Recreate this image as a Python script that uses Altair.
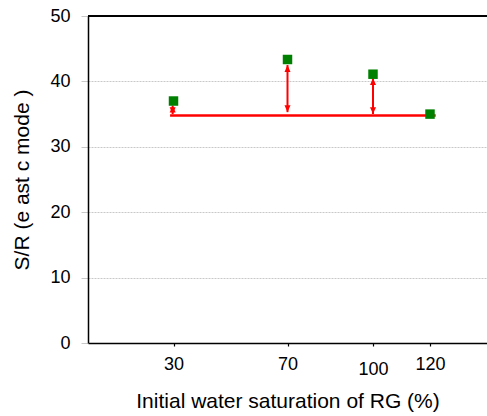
import altair as alt
import pandas as pd

# Data
x_vals = [30, 70, 100, 120]
sr_vals = [37.0, 43.35, 41.1, 35.0]
base_level = 34.8
base_x = [28.8, 122.0]
arrow_x = [29.7, 70, 100]
arrow_lo = [35.0, 35.3, 35.0]
arrow_hi = [36.3, 42.5, 40.5]
x_ticks = [30, 70, 100, 120]
y_ticks = [0, 10, 20, 30, 40, 50]

pts = pd.DataFrame({"x": x_vals, "y": sr_vals})
base = pd.DataFrame({"x": [base_x[0]], "x2": [base_x[1]], "y": [base_level]})
arr = pd.DataFrame({"x": arrow_x, "lo": arrow_lo, "hi": arrow_hi})

FONT = "Liberation Sans"
xs = alt.Scale(domain=[0, 140], nice=False, zero=False)
ys = alt.Scale(domain=[0, 50], nice=False)

xaxis = alt.Axis(
    values=x_ticks, title="Initial water saturation of RG (%)", grid=False,
    domainColor="black", domainWidth=1.5, tickColor="black", tickSize=3, tickWidth=1.2,
    labelFont=FONT, labelFontSize=18, labelColor="black", labelBaseline="top",
    labelPadding=alt.condition("datum.value == 100", alt.value(14), alt.value(9)),
    titleFont=FONT, titleFontSize=21, titleFontWeight="normal", titleColor="black",
    titleY=64, titleBaseline="alphabetic",
)
yaxis = alt.Axis(
    values=y_ticks, title="S/R (e ast c mode )", grid=True, gridColor="#c8c8c8", gridDash=[2, 1],
    gridWidth=1, domainColor="black", domainWidth=1.5, tickColor="#c8c8c8", tickSize=7,
    labelFont=FONT, labelFontSize=18, labelColor="black", labelPadding=11,
    titleFont=FONT, titleFontSize=21, titleFontWeight="normal", titleColor="black",
    titleX=-66, titleY=163.5, titleAngle=-90, titleBaseline="middle", titleAlign="center",
)

top_rule = alt.Chart(pts).mark_rule(color="black", strokeWidth=1.5).encode(
    y=alt.datum(50, scale=ys)
)

baseline = alt.Chart(base).mark_rule(color="#ff0000", strokeWidth=2.5).encode(
    x=alt.X("x:Q", scale=xs, axis=xaxis), x2="x2:Q", y=alt.Y("y:Q", scale=ys, axis=yaxis)
)

arrows = alt.Chart(arr).mark_rule(color="#ff0000", strokeWidth=2).encode(
    x=alt.X("x:Q", scale=xs), y=alt.Y("lo:Q", scale=ys), y2="hi:Q"
)
heads_up = alt.Chart(arr).mark_point(
    shape="M0,0L-1,2.3L1,2.3Z", size=36, filled=True, color="#ff0000", opacity=1
).encode(x=alt.X("x:Q", scale=xs), y=alt.Y("hi:Q", scale=ys))
heads_down = alt.Chart(arr).mark_point(
    shape="M0,0L-1,-2.3L1,-2.3Z", size=36, filled=True, color="#ff0000", opacity=1
).encode(x=alt.X("x:Q", scale=xs), y=alt.Y("lo:Q", scale=ys))

squares = alt.Chart(pts).mark_square(size=90, color="#008000", opacity=1).encode(
    x=alt.X("x:Q", scale=xs), y=alt.Y("y:Q", scale=ys)
)

chart = alt.layer(baseline, top_rule, arrows, heads_up, heads_down, squares).properties(
    width=399, height=327,
    autosize=alt.AutoSizeParams(type="none"),
    padding={"left": 88, "top": 16, "right": 0, "bottom": 73},
    background="white",
).configure_view(stroke=None)

chart.save("out.html", embed_options={"renderer": "svg", "actions": False})
